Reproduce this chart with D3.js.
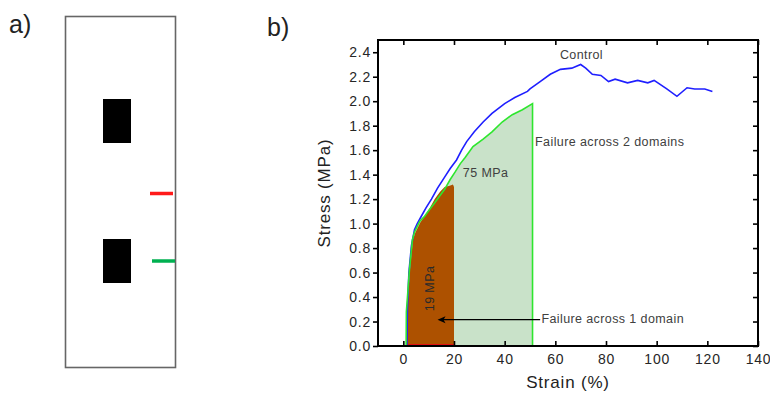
<!DOCTYPE html>
<html>
<head>
<meta charset="utf-8">
<script src="https://cdn.jsdelivr.net/npm/d3@7"></script>
</head>
<body style="margin:0">
<svg id="fig" width="770" height="398" font-family="Arial, 'Liberation Sans', sans-serif"></svg>
<script>
// Control sample (blue): [strain %, stress MPa]
const controlCurve = [[1.4,0],[1.6,0.3],[2.2,0.6],[3.2,0.82],[4.4,0.95],[5.5,1.0],[7.1,1.06],[9,1.13],[11.1,1.2],[13.5,1.29],[16.3,1.38],[18.5,1.45],[21,1.52],[23,1.6],[25,1.67],[28,1.75],[31.5,1.83],[35,1.9],[40,1.98],[44,2.03],[49,2.08],[50,2.1],[54,2.16],[58,2.22],[62,2.26],[66.5,2.27],[70,2.3],[72,2.27],[74.6,2.22],[78,2.21],[81,2.16],[83.6,2.18],[88.5,2.15],[92.5,2.17],[96.5,2.15],[99,2.17],[104,2.1],[108,2.04],[112,2.11],[115,2.1],[119,2.1],[122,2.08]];
// Failure across 2 domains (green, 75 MPa)
const twoDomainCurve = [[1.1,0],[1.2,0.28],[2.4,0.62],[3.6,0.87],[4.4,0.93],[6.5,1.02],[8.4,1.06],[10.5,1.12],[12.4,1.17],[14.5,1.23],[16.3,1.28],[18.5,1.36],[20.4,1.42],[22.5,1.49],[24.4,1.54],[27.5,1.63],[31.5,1.69],[35,1.75],[39,1.83],[43,1.89],[47,1.93],[51,1.98],[51,0]];
// Failure across 1 domain (brown, 19 MPa)
const oneDomainCurve = [[1.4,0],[1.5,0.28],[2.6,0.62],[3.8,0.87],[4.8,0.93],[6.7,1.01],[8.4,1.06],[10.5,1.13],[12.4,1.2],[14.5,1.26],[16.3,1.3],[18.3,1.31],[19.6,1.32],[20,1.3],[20,0]];
const xTicks = [0, 20, 40, 60, 80, 100, 120, 140];
const yTicks = [0, 0.2, 0.4, 0.6, 0.8, 1.0, 1.2, 1.4, 1.6, 1.8, 2.0, 2.2, 2.4];

const svg = d3.select("#fig");

// ---- panel a) ----
svg.append("text").attr("x", 9).attr("y", 33).attr("font-size", 25).attr("fill", "#222").text("a)");
svg.append("rect").attr("x", 65.5).attr("y", 16.5).attr("width", 110).attr("height", 351)
  .attr("fill", "none").attr("stroke", "#666").attr("stroke-width", 1.6);
svg.append("rect").attr("x", 103).attr("y", 99).attr("width", 28).attr("height", 44).attr("fill", "#000");
svg.append("rect").attr("x", 103).attr("y", 239).attr("width", 28).attr("height", 44).attr("fill", "#000");
svg.append("line").attr("x1", 150).attr("x2", 173).attr("y1", 193.5).attr("y2", 193.5).attr("stroke", "#ff1a1a").attr("stroke-width", 3.5);
svg.append("line").attr("x1", 152).attr("x2", 175).attr("y1", 261).attr("y2", 261).attr("stroke", "#00b050").attr("stroke-width", 3.5);

// ---- panel b) ----
svg.append("text").attr("x", 267).attr("y", 36).attr("font-size", 25).attr("fill", "#222").text("b)");

const x = d3.scaleLinear().domain([-10, 140]).range([378, 758]);
const y = d3.scaleLinear().domain([0, 2.5]).range([346, 40]);

const area = d3.area().x(d => x(d[0])).y0(y(0)).y1(d => y(d[1]));
const line = d3.line().x(d => x(d[0])).y(d => y(d[1]));

svg.append("path").attr("d", area(twoDomainCurve)).attr("fill", "#c9e2c9");
svg.append("path").attr("d", area(oneDomainCurve)).attr("fill", "#ad5100");
svg.append("line").attr("x1", x(oneDomainCurve[0][0])).attr("x2", x(20)).attr("y1", y(0) - 1).attr("y2", y(0) - 1)
  .attr("stroke", "#e01010").attr("stroke-width", 2);
svg.append("path").attr("d", line(controlCurve)).attr("fill", "none").attr("stroke", "#1f1fff").attr("stroke-width", 1.6);
svg.append("path").attr("d", line(twoDomainCurve)).attr("fill", "none").attr("stroke", "#2ee62e").attr("stroke-width", 1.6);

// plot frame as four filled bars
const [fx0, fx1] = x.range(), [fy0, fy1] = y.range();
const bars = [
  [fx0 - 1, fy1 - 1, fx1 - fx0 + 2, 2],
  [fx0 - 1, fy0 - 1, fx1 - fx0 + 2, 2],
  [fx0 - 1, fy1 - 1, 2, fy0 - fy1 + 2],
  [fx1 - 1, fy1 - 1, 2, fy0 - fy1 + 2]
];
svg.append("g").selectAll("rect").data(bars).join("rect")
  .attr("x", d => d[0]).attr("y", d => d[1]).attr("width", d => d[2]).attr("height", d => d[3])
  .attr("fill", "#000");

// axes
const axisStyle = g => {
  g.select(".domain").remove();
  g.selectAll(".tick line").attr("stroke", "#000").attr("stroke-width", 1.6);
  g.selectAll(".tick text").attr("fill", "#262626").attr("font-size", 14).attr("letter-spacing", 0.8)
    .attr("font-family", "Arial, 'Liberation Sans', sans-serif");
};
svg.append("g").attr("transform", `translate(0,${y(0)})`)
  .call(d3.axisBottom(x).tickValues(xTicks).tickSizeInner(-5).tickSizeOuter(0).tickPadding(8))
  .call(axisStyle);
svg.append("g").attr("transform", `translate(0,${y(2.5)})`)
  .call(d3.axisTop(x).tickValues(xTicks).tickSizeInner(-5).tickSizeOuter(0).tickFormat(""))
  .call(axisStyle);
svg.append("g").attr("transform", `translate(${x(-10)},0)`)
  .call(d3.axisLeft(y).tickValues(yTicks).tickSizeInner(5).tickSizeOuter(0).tickPadding(2).tickFormat(d3.format(".1f")))
  .call(axisStyle);
svg.append("g").attr("transform", `translate(${x(140)},0)`)
  .call(d3.axisRight(y).tickValues(yTicks).tickSizeInner(-5).tickSizeOuter(0).tickFormat(""))
  .call(axisStyle);

// axis titles
svg.append("text").attr("x", (x(-10) + x(140)) / 2).attr("y", 388).attr("text-anchor", "middle")
  .attr("font-size", 17).attr("letter-spacing", 0.8).attr("fill", "#222").text("Strain (%)");
svg.append("text").attr("transform", `translate(330,${(y(0) + y(2.5)) / 2}) rotate(-90)`).attr("text-anchor", "middle")
  .attr("font-size", 17).attr("letter-spacing", 0.8).attr("fill", "#222").text("Stress (MPa)");

// annotations
const note = (tx, ty, s) => svg.append("text").attr("x", tx).attr("y", ty).attr("font-size", 12.5)
  .attr("letter-spacing", 0.4).attr("fill", "#404040").text(s);
note(x(61.8), y(2.345), "Control");
note(x(52), y(1.63), "Failure across 2 domains");
note(x(23.5), y(1.38), "75 MPa");
note(x(54.5), y(0.19), "Failure across 1 domain");
svg.append("text").attr("transform", `translate(${x(12.2)},${y(0.47)}) rotate(-90)`).attr("text-anchor", "middle")
  .attr("font-size", 12.5).attr("letter-spacing", 0.4).attr("fill", "#2a2a2a").text("19 MPa");

// arrow (line + polygon head)
const arrowY = y(0.215), arrowTip = x(13.5);
svg.append("line").attr("x1", x(54)).attr("x2", arrowTip + 4).attr("y1", arrowY).attr("y2", arrowY)
  .attr("stroke", "#000").attr("stroke-width", 1.3);
svg.append("path").attr("d", `M${arrowTip},${arrowY}L${arrowTip + 8},${arrowY - 3.5}L${arrowTip + 6},${arrowY}L${arrowTip + 8},${arrowY + 3.5}Z`)
  .attr("fill", "#000");
</script>
</body>
</html>
